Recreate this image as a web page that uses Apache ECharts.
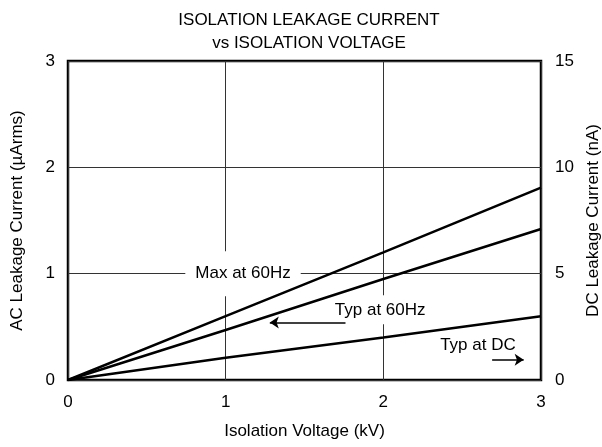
<!DOCTYPE html>
<html>
<head>
<meta charset="utf-8">
<script src="https://cdn.jsdelivr.net/npm/echarts@6/dist/echarts.min.js"></script>
<style>
  html, body { margin: 0; padding: 0; background: #fff; }
  #chart { width: 602px; height: 447px; }
</style>
</head>
<body>
<div id="chart"></div>
<script>
var voltage = [0, 1, 2, 3];          // kV
var maxAc60 = [0, 0.6, 1.2, 1.81];   // µArms
var typAc60 = [0, 0.47, 0.95, 1.42]; // µArms
var typDc = [0, 1.05, 2.0, 3.0];     // nA (right axis)

// annotation text positions, in data units
var labelNames = ['Max at 60Hz', 'Typ at 60Hz', 'Typ at DC'];
var labelX = [1.11, 1.98, 2.6];
var labelY = [1.0, 0.66, 0.33];

// arrows: [x start, x end, y]
var arrowAc = [1.76, 1.28, 0.54];
var arrowDc = [2.69, 2.89, 0.19];

var FONT = 'Liberation Sans';
var FS = 17;

function pairs(xs, ys) {
  return xs.map(function (x, i) { return [x, ys[i]]; });
}

var chart = echarts.init(document.getElementById('chart'));

var lineStyle = { color: '#000', width: 2.5 };

var option = {
  backgroundColor: '#fff',
  animation: false,
  textStyle: { fontFamily: FONT },
  title: {
    text: 'ISOLATION LEAKAGE CURRENT\nvs ISOLATION VOLTAGE',
    left: 304,
    textAlign: 'center',
    top: 4,
    textStyle: { fontFamily: FONT, fontSize: FS, fontWeight: 'normal', color: '#000', lineHeight: 23 }
  },
  grid: {
    left: 68, right: 61, top: 61, bottom: 67,
    outerBoundsMode: 'none',
    containLabel: false,
    show: true,
    borderColor: '#000',
    borderWidth: 2.5,
    backgroundColor: 'transparent'
  },
  xAxis: {
    type: 'value',
    min: 0, max: 3, interval: 1,
    name: 'Isolation Voltage (kV)',
    nameLocation: 'middle',
    nameGap: 43,
    nameTextStyle: { fontSize: FS, color: '#000' },
    axisLine: { show: false },
    axisTick: { show: false },
    axisLabel: { fontSize: FS, color: '#000', margin: 14 },
    splitLine: { show: true, lineStyle: { color: '#333', width: 1 } }
  },
  yAxis: [
    {
      type: 'value',
      min: 0, max: 3, interval: 1,
      name: 'AC Leakage Current (µArms)',
      nameLocation: 'middle',
      nameGap: 42,
      nameTextStyle: { fontSize: FS, color: '#000' },
      axisLine: { show: false },
      axisTick: { show: false },
      axisLabel: { fontSize: FS, color: '#000', margin: 13 },
      splitLine: { show: true, lineStyle: { color: '#333', width: 1 } }
    },
    {
      type: 'value',
      min: 0, max: 15, interval: 5,
      position: 'right',
      name: 'DC Leakage Current (nA)',
      nameLocation: 'middle',
      nameGap: 42,
      nameRotate: 90,
      nameTextStyle: { fontSize: FS, color: '#000' },
      axisLine: { show: false },
      axisTick: { show: false },
      axisLabel: { fontSize: FS, color: '#000', margin: 14 },
      splitLine: { show: false }
    }
  ],
  series: [
    {
      // annotation labels; white boxes break the grid lines behind them
      type: 'scatter',
      z: 1,
      symbolSize: 0,
      silent: true,
      itemStyle: { opacity: 1 },
      data: labelNames.map(function (n, i) {
        var pad = [[14, 10], [6, 6], [2, 2]][i];
        return {
          value: [labelX[i], labelY[i]],
          label: {
            show: true,
            position: 'inside',
            formatter: n,
            fontSize: FS,
            color: '#000',
            opacity: 1,
            backgroundColor: '#fff',
            padding: pad
          }
        };
      })
    },
    {
      name: 'Max at 60Hz',
      type: 'line',
      z: 5,
      showSymbol: false,
      lineStyle: lineStyle,
      data: pairs(voltage, maxAc60)
    },
    {
      name: 'Typ at 60Hz',
      type: 'line',
      z: 5,
      showSymbol: false,
      lineStyle: lineStyle,
      data: pairs(voltage, typAc60),
      markLine: {
        silent: true,
        symbol: ['none', 'arrow'],
        symbolSize: 9,
        label: { show: false },
        lineStyle: { color: '#000', width: 1.5, type: 'solid' },
        data: [
          [{ coord: [arrowAc[0], arrowAc[2]] }, { coord: [arrowAc[1], arrowAc[2]] }]
        ]
      }
    },
    {
      name: 'Typ at DC',
      type: 'line',
      z: 5,
      yAxisIndex: 1,
      showSymbol: false,
      lineStyle: lineStyle,
      data: pairs(voltage, typDc),
      markLine: {
        silent: true,
        symbol: ['none', 'arrow'],
        symbolSize: 9,
        label: { show: false },
        lineStyle: { color: '#000', width: 1.5, type: 'solid' },
        data: [
          [{ coord: [arrowDc[0], arrowDc[2] * 5] }, { coord: [arrowDc[1], arrowDc[2] * 5] }]
        ]
      }
    }
  ]
};

chart.setOption(option);
</script>
</body>
</html>
